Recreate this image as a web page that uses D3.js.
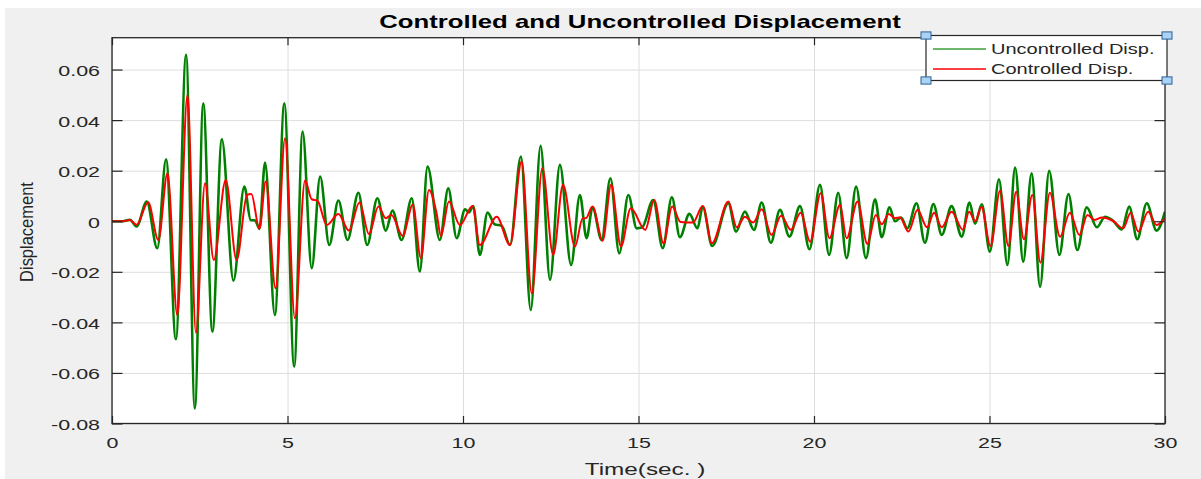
<!DOCTYPE html>
<html><head><meta charset="utf-8">
<script src="https://cdn.jsdelivr.net/npm/d3@7"></script>
<style>
body{margin:0;background:#fff;}
svg{display:block;}
text{font-family:"Liberation Sans",Arial,Helvetica,sans-serif;}
</style>
</head><body>
<svg id="chart" width="1201" height="479"></svg>
<script>
// ---------- data ----------
const titleText = "Controlled and Uncontrolled Displacement";
const xLabelText = "Time(sec. )";
const yLabelText = "Displacement";
const seriesNames = ["Uncontrolled Disp.", "Controlled Disp."];
const seriesColors = ["#008000", "#ff0000"];

const xTicks = [0, 5, 10, 15, 20, 25, 30];
const xTickLabels = ["0", "5", "10", "15", "20", "25", "30"];
const yTicks = [-0.08, -0.06, -0.04, -0.02, 0, 0.02, 0.04, 0.06];
const yTickLabels = ["-0.08", "-0.06", "-0.04", "-0.02", "0", "0.02", "0.04", "0.06"];
const xDomain = [0, 30];
const yDomain = [-0.08, 0.0726];

// Uncontrolled displacement (time, value) at turning points
const timeUnc = [0,0.3,0.51,0.70,0.99,1.29,1.54,1.82,2.11,2.36,2.60,2.86,3.13,3.46,3.77,3.95,4.08,4.20,4.36,4.64,4.91,5.19,5.43,5.69,5.93,6.19,6.45,6.71,7.02,7.27,7.56,7.80,7.99,8.25,8.54,8.77,8.99,9.34,9.58,9.82,10.06,10.17,10.29,10.48,10.70,10.9,11.1,11.34,11.65,11.93,12.21,12.48,12.76,13.08,13.33,13.52,13.69,13.95,14.20,14.45,14.71,14.95,15.1,15.42,15.69,15.95,16.18,16.45,16.68,16.83,17.10,17.56,17.78,18.03,18.29,18.51,18.77,19.03,19.30,19.60,19.87,20.17,20.43,20.69,20.93,21.20,21.48,21.74,21.93,22.15,22.31,22.48,22.66,22.92,23.16,23.40,23.64,23.92,24.21,24.43,24.59,24.78,25.01,25.27,25.51,25.73,25.96,26.20,26.44,26.70,26.99,27.25,27.50,27.77,28.06,28.29,28.5,28.77,28.98,29.21,29.48,29.76,30];
const dispUnc = [0,0,0.0006,-0.0021,0.0078,-0.0107,0.0245,-0.0467,0.0658,-0.074,0.0467,-0.0437,0.0324,-0.0235,0.0137,0.0005,0.0003,-0.003,0.0232,-0.0371,0.0467,-0.0575,0.0355,-0.0186,0.0177,-0.0094,0.0082,-0.0074,0.0113,-0.0094,0.0091,-0.0037,0.0042,-0.0074,0.0091,-0.0199,0.0216,-0.0074,0.013,-0.0067,0.0047,0.0035,0.006,-0.0133,0.0034,-0.0012,-0.0018,-0.0094,0.0256,-0.0351,0.0298,-0.0232,0.0223,-0.0173,0.0104,-0.0067,0.0055,-0.0074,0.017,-0.0127,0.0104,-0.0028,-0.0025,0.0084,-0.0107,0.0095,-0.0063,0.0029,-0.0028,0.0058,-0.0098,0.0071,-0.0041,0.0038,-0.0034,0.0074,-0.0085,0.0045,-0.0061,0.006,-0.0111,0.0144,-0.0133,0.0113,-0.0146,0.0137,-0.0146,0.0087,-0.0063,0.0055,0.0,0.0015,-0.0028,0.0071,-0.0085,0.0068,-0.0054,0.006,-0.0061,0.0074,-0.001,0.0067,-0.012,0.0166,-0.0173,0.0212,-0.016,0.019,-0.0259,0.02,-0.0133,0.0108,-0.0114,0.0055,-0.0024,0.0018,0.0005,-0.0032,0.0058,-0.0071,0.0071,-0.0037,0.0038];

// Controlled displacement (time, value) at turning points
const timeCon = [0,0.3,0.51,0.70,1.03,1.32,1.58,1.86,2.15,2.39,2.65,2.90,3.24,3.55,3.85,3.97,4.20,4.38,4.66,4.93,5.21,5.50,5.69,5.85,6.12,6.45,6.75,7.05,7.32,7.59,7.80,7.96,8.28,8.57,8.80,9.03,9.25,9.37,9.60,9.91,10.27,10.48,10.96,11.34,11.67,11.96,12.26,12.57,12.85,13.19,13.41,13.50,13.69,13.98,14.22,14.50,14.78,15.19,15.45,15.71,15.96,16.2,16.55,16.83,17.09,17.56,17.80,18.03,18.27,18.51,18.79,19.06,19.34,19.62,19.89,20.19,20.44,20.74,20.93,21.24,21.52,21.76,21.93,22.13,22.3,22.45,22.69,22.95,23.22,23.42,23.64,23.92,24.24,24.42,24.59,24.77,25.03,25.30,25.54,25.76,25.98,26.22,26.45,26.72,27.01,27.29,27.56,27.79,28.0,28.2,28.5,28.81,29.02,29.24,29.52,29.76,30];
const dispCon = [0,0,0.0005,-0.0014,0.0075,-0.0074,0.019,-0.0371,0.050,-0.0441,0.015,-0.0153,0.0163,-0.0153,0.0105,0.0108,-0.003,0.0157,-0.0265,0.0328,-0.0384,0.0161,0.0087,0.0082,-0.0015,0.0029,-0.0037,0.0074,-0.005,0.0058,0.0012,0.0025,-0.0058,0.0065,-0.0146,0.0124,0.003,-0.0058,0.0078,-0.0015,0.006,-0.0094,0.0018,-0.0094,0.0236,-0.0285,0.021,-0.0133,0.0144,-0.01,0.0012,0.0012,0.0058,-0.0077,0.0144,-0.01,0.0051,-0.0034,0.0084,-0.0087,0.0058,-0.0003,-0.0005,0.006,-0.0087,0.0078,-0.0024,0.0018,-0.0005,0.0047,-0.0054,0.0022,-0.0034,0.0034,-0.0081,0.0111,-0.0067,0.0064,-0.0067,0.0078,-0.009,0.0025,-0.0012,0.0029,0.0012,0.0015,-0.0041,0.0045,-0.0024,0.0034,-0.0024,0.0038,-0.0034,0.0038,0.0,0.0056,-0.0098,0.0121,-0.0098,0.0117,-0.0071,0.0104,-0.0164,0.0113,-0.0061,0.0034,-0.0054,0.0025,0.0005,0.0015,0.0003,-0.0028,0.0034,-0.0041,0.0038,-0.0015,0.0012];

// ---------- drawing ----------
const W = 1201, H = 479;
const plot = {left: 112, right: 1165, top: 37.7, bottom: 423.5};
const SX = 1.43; // horizontal stretch of the reference text
const axisColor = "#262626";

const svg = d3.select("#chart");
svg.append("rect").attr("x", 5).attr("y", 8).attr("width", W - 5).attr("height", H - 8).attr("fill", "#f0f0f0");
svg.append("rect").attr("x", plot.left).attr("y", plot.top)
  .attr("width", plot.right - plot.left).attr("height", plot.bottom - plot.top).attr("fill", "#fff");

const x = d3.scaleLinear().domain(xDomain).range([plot.left, plot.right]);
const y = d3.scaleLinear().domain(yDomain).range([plot.bottom, plot.top]);

// grid
const gridX = svg.append("g").attr("transform", `translate(0,${plot.bottom})`)
  .call(d3.axisBottom(x).tickValues(xTicks).tickSize(-(plot.bottom - plot.top)).tickFormat(""));
const gridY = svg.append("g").attr("transform", `translate(${plot.left},0)`)
  .call(d3.axisLeft(y).tickValues(yTicks).tickSize(-(plot.right - plot.left)).tickFormat(""));
[gridX, gridY].forEach(g => {
  g.select(".domain").remove();
  g.selectAll(".tick line").attr("stroke", "#dedede").attr("stroke-width", 1);
});

// clip
svg.append("clipPath").attr("id", "clip").append("rect")
  .attr("x", plot.left).attr("y", plot.top)
  .attr("width", plot.right - plot.left).attr("height", plot.bottom - plot.top);

const lineGen = (ts, vs) => d3.line()
  .x(i => x(ts[i])).y(i => y(vs[i]))
  .curve(d3.curveMonotoneX)(d3.range(ts.length));

const lines = svg.append("g").attr("clip-path", "url(#clip)");
lines.append("path").attr("d", lineGen(timeUnc, dispUnc))
  .attr("fill", "none").attr("stroke", seriesColors[0]).attr("stroke-width", 2.6)
  .attr("stroke-linejoin", "round");
lines.append("path").attr("d", lineGen(timeCon, dispCon))
  .attr("fill", "none").attr("stroke", seriesColors[1]).attr("stroke-width", 2.0)
  .attr("stroke-linejoin", "round");

// axes (ticks inward)
const tickX = 7.5, tickY = 10.5;
const axB = svg.append("g").attr("transform", `translate(0,${plot.bottom})`)
  .call(d3.axisBottom(x).tickValues(xTicks).tickSizeInner(-tickX).tickSizeOuter(0)
    .tickFormat((d, i) => xTickLabels[i]));
const axT = svg.append("g").attr("transform", `translate(0,${plot.top})`)
  .call(d3.axisTop(x).tickValues(xTicks).tickSizeInner(-tickX).tickSizeOuter(0).tickFormat(""));
const axL = svg.append("g").attr("transform", `translate(${plot.left},0)`)
  .call(d3.axisLeft(y).tickValues(yTicks).tickSizeInner(-tickY).tickSizeOuter(0)
    .tickFormat((d, i) => yTickLabels[i]));
const axR = svg.append("g").attr("transform", `translate(${plot.right},0)`)
  .call(d3.axisRight(y).tickValues(yTicks).tickSizeInner(-tickY).tickSizeOuter(0).tickFormat(""));
[axB, axT, axL, axR].forEach(g => {
  g.select(".domain").remove();
  g.selectAll(".tick line").attr("stroke", axisColor).attr("stroke-width", 1.2);
});
axB.selectAll(".tick text")
  .attr("y", 0).attr("dy", 0).attr("x", 0)
  .attr("transform", `translate(0,24) scale(${SX},1)`)
  .attr("fill", axisColor).attr("font-size", 15).attr("text-anchor", "middle")
  .attr("font-family", "Liberation Sans, Arial, sans-serif");
axL.selectAll(".tick text")
  .attr("x", 0).attr("dy", 0).attr("y", 0)
  .attr("transform", `translate(-12,6) scale(${SX},1)`)
  .attr("fill", axisColor).attr("font-size", 15).attr("text-anchor", "end")
  .attr("font-family", "Liberation Sans, Arial, sans-serif");

// box
svg.append("rect").attr("x", plot.left).attr("y", plot.top)
  .attr("width", plot.right - plot.left).attr("height", plot.bottom - plot.top)
  .attr("fill", "none").attr("stroke", axisColor).attr("stroke-width", 1.3);

// title and labels
svg.append("text").text(titleText)
  .attr("transform", `translate(640,28) scale(${SX},1)`)
  .attr("text-anchor", "middle").attr("font-weight", "bold").attr("font-size", 18).attr("fill", "#000");
svg.append("text").text(xLabelText)
  .attr("transform", `translate(645,475) scale(${SX},1)`)
  .attr("text-anchor", "middle").attr("font-size", 17).attr("fill", axisColor);
svg.append("text").text(yLabelText)
  .attr("transform", `translate(33,232) scale(1.15,1) rotate(-90)`)
  .attr("text-anchor", "middle").attr("font-size", 16.5).attr("fill", axisColor);

// legend
const lg = {x0: 926, x1: 1167, y0: 35.5, y1: 80.5};
const leg = svg.append("g");
leg.append("rect").attr("x", lg.x0).attr("y", lg.y0).attr("width", lg.x1 - lg.x0).attr("height", lg.y1 - lg.y0)
  .attr("fill", "#fff").attr("stroke", axisColor).attr("stroke-width", 1.2);
const legRows = [49, 69];
seriesNames.forEach((name, i) => {
  leg.append("line").attr("x1", 933).attr("x2", 986).attr("y1", legRows[i]).attr("y2", legRows[i])
    .attr("stroke", i === 0 ? "#3aa03a" : seriesColors[i]).attr("stroke-width", 1.6);
  leg.append("text").text(name)
    .attr("transform", `translate(991,${legRows[i] + 5}) scale(${SX},1)`)
    .attr("font-size", 14).attr("fill", axisColor);
});
// selection handles at the legend corners
[[lg.x0, lg.y0], [lg.x1, lg.y0], [lg.x0, lg.y1], [lg.x1, lg.y1]].forEach(([hx, hy]) => {
  leg.append("rect").attr("x", hx - 5).attr("y", hy - 3.6).attr("width", 10).attr("height", 7.2)
    .attr("fill", "#a9d3f5").attr("stroke", "#2c5f94").attr("stroke-width", 1);
});
</script>
</body></html>
